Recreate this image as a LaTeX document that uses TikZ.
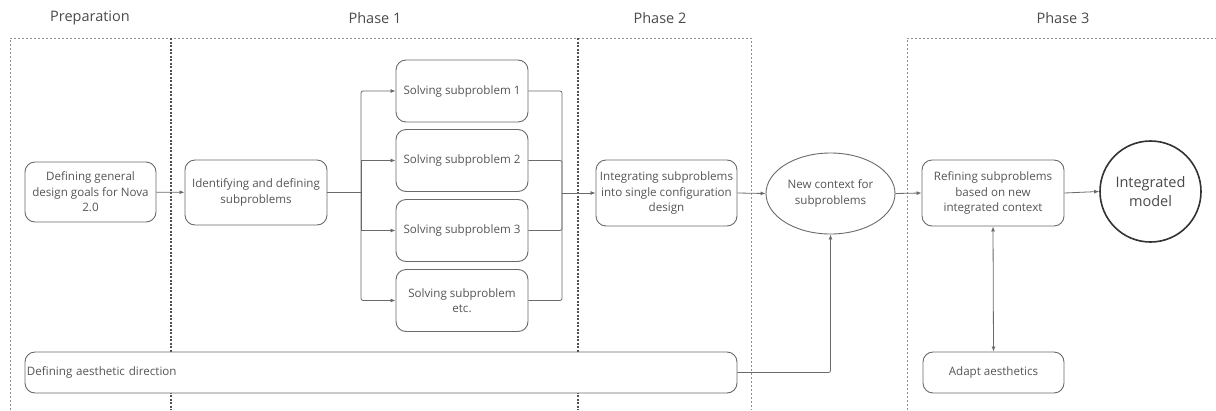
\documentclass[tikz,border=0pt]{standalone}
\usepackage{fontspec}
\setmainfont{Open Sans}
\usetikzlibrary{arrows.meta,shapes.geometric}
\definecolor{txt}{HTML}{555555}
\definecolor{hdr}{HTML}{4A4A4A}
\definecolor{ln}{HTML}{6A6A6A}
\definecolor{dsh}{HTML}{8E8E8E}
\definecolor{dshd}{HTML}{505050}
\tikzset{
  box/.style={draw=ln, fill=white, line width=0.9pt, rounded corners=10pt, text=txt, align=center,
    font=\fontsize{11.6}{15.5}\selectfont, inner sep=2pt},
  arr/.style={draw=ln, line width=0.8pt, -{Latex[length=5pt,width=4pt]}},
  plain/.style={draw=ln, line width=0.8pt, rounded corners=2pt},
  phase/.style={draw=dsh, line width=1pt, dash pattern=on 2pt off 2pt},
  phased/.style={draw=dshd, line width=1.2pt, dash pattern=on 2pt off 1.5pt},
  hdrlbl/.style={text=hdr, font=\fontsize{14.5}{17}\selectfont},
}
\begin{document}
\begin{tikzpicture}[x=1pt,y=-1pt]
\useasboundingbox (0,0) rectangle (1216,410);
% phase frames
\draw[phase] (10,410) -- (10,38) -- (751,38) -- (751,410);
\draw[phased] (171,38) -- (171,410);
\draw[phased] (578,38) -- (578,410);
\draw[phase] (907,410) -- (907,38) -- (1216,38);
% headers
\node[hdrlbl] (hprep) at (90,18) {Preparation};
\node[hdrlbl] (hp1) at (375,18) {Phase 1};
\node[hdrlbl] (hp2) at (660,18) {Phase 2};
\node[hdrlbl] (hp3) at (1063,18) {Phase 3};
% nodes
\node[box, minimum width=131pt, minimum height=60pt] (goals) at (90.5,192) {Defining general\\design goals for Nova\\2.0};
\node[box, minimum width=142pt, minimum height=65pt] (ident) at (256,192.5) {Identifying and defining\\subproblems};
\node[box, minimum width=132pt, minimum height=62pt] (s1) at (462,91) {Solving subproblem 1};
\node[box, minimum width=132pt, minimum height=62pt] (s2) at (462,160.5) {Solving subproblem 2};
\node[box, minimum width=132pt, minimum height=62pt] (s3) at (462,230.5) {Solving subproblem 3};
\node[box, minimum width=132pt, minimum height=62pt] (s4) at (462,300.5) {Solving subproblem\\etc.};
\node[box, minimum width=141pt, minimum height=66pt] (integ) at (666.5,193) {Integrating subproblems\\into single configuration\\design};
\node[box, ellipse, rounded corners=0pt, minimum width=129pt, minimum height=81pt, inner sep=0pt] (ctx) at (830.5,193.5) {New context for\\subproblems};
\node[box, minimum width=142pt, minimum height=66pt] (refine) at (993,193) {Refining subproblems\\based on new\\integrated context};
\node[circle, draw=black!80, fill=white, line width=1.6pt, minimum size=101pt, inner sep=0pt, text=hdr, align=center, font=\fontsize{14.5}{18.5}\selectfont] (model) at (1150.5,191.5) {Integrated\\model};
\node[box, minimum width=712pt, minimum height=41pt, text width=708pt, align=left] (aesth) at (381,372.5) {Defining aesthetic direction};
\node[box, minimum width=141pt, minimum height=41pt] (adapt) at (993.5,372.5) {Adapt aesthetics};
% connectors
\coordinate (br) at (361,192.5);
\coordinate (mg) at (562,193);
\draw[arr] (goals) -- (ident);
\draw[plain] (ident.east) -- (br);
\draw[arr, rounded corners=2pt] (br) |- (s1.west);
\draw[arr] (br) |- (s2.west);
\draw[arr] (br) |- (s3.west);
\draw[arr, rounded corners=2pt] (br) |- (s4.west);
\draw[plain] (s1.east) -| (mg);
\draw[plain] (s2.east) -| (mg);
\draw[plain] (s3.east) -| (mg);
\draw[plain] (s4.east) -| (mg);
\draw[arr] (mg) -- (integ.west);
\draw[arr] (integ.east) -- (ctx.west);
\draw[arr] (ctx.east) -- (refine.west);
\draw[arr] (refine.east) -- (model.west);
\draw[arr, rounded corners=2pt] (aesth.east) -| (ctx.south);
\draw[draw=ln, line width=0.8pt, {Latex[length=5pt,width=4pt]}-{Latex[length=5pt,width=4pt]}] (refine.south) -- (adapt.north);
\end{tikzpicture}
\end{document}
